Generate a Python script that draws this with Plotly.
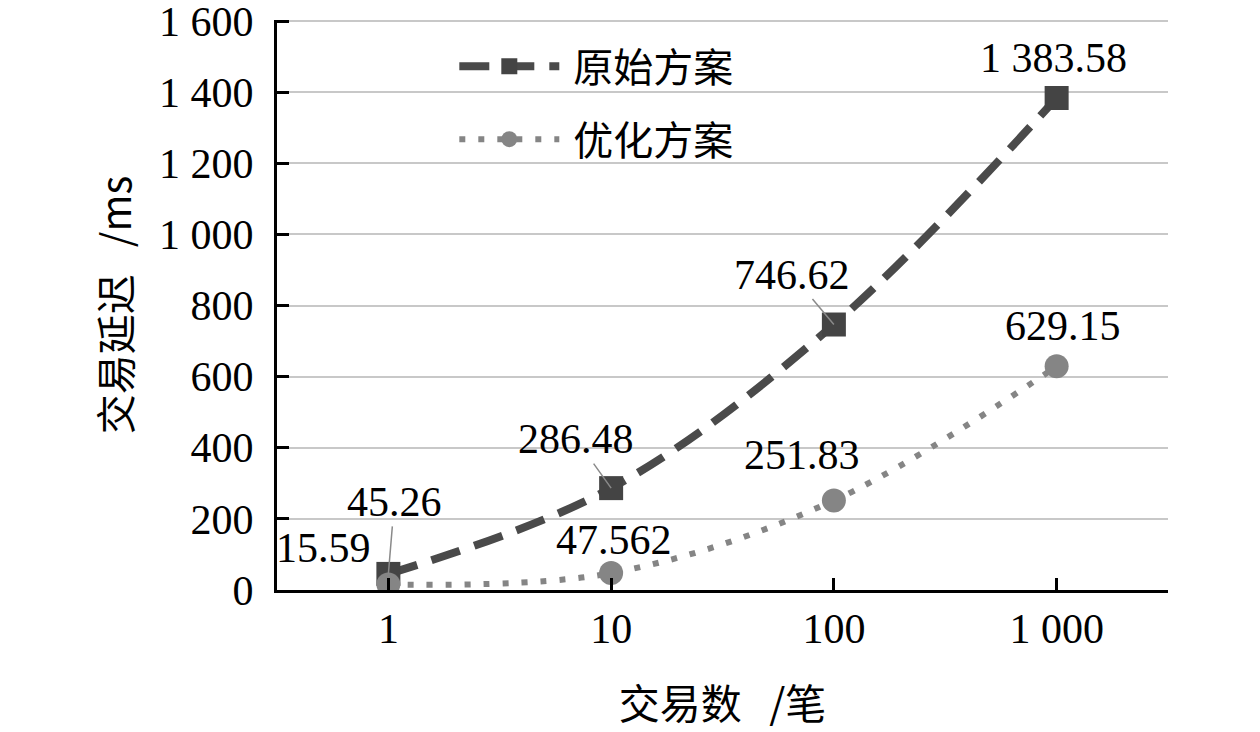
import plotly.graph_objects as go

categories = ["1", "10", "100", "1 000"]
original = [45.26, 286.48, 746.62, 1383.58]
optimized = [15.59, 47.562, 251.83, 629.15]
original_labels = ["45.26", "286.48", "746.62", "1 383.58"]
optimized_labels = ["15.59", "47.562", "251.83", "629.15"]
y_tickvals = [0, 200, 400, 600, 800, 1000, 1200, 1400, 1600]
y_ticktext = ["0", "200", "400", "600", "800", "1 000", "1 200", "1 400", "1 600"]

SERIF = "Liberation Serif, Times New Roman, serif"
CJK = "Noto Sans CJK SC, sans-serif"

fig = go.Figure()
fig.add_trace(go.Scatter(
    x=categories, y=original, name="\u00a0原始方案", mode="lines+markers",
    line=dict(color="#4a4a4a", width=8, dash="30px,15px", shape="spline"),
    marker=dict(symbol="square", size=24, color="#444444"),
    legendgroup="a",
))
fig.add_trace(go.Scatter(
    x=categories, y=optimized, name="\u00a0优化方案", mode="lines+markers",
    line=dict(color="#858585", width=6, dash="6px,13px", shape="spline"),
    marker=dict(symbol="circle", size=24, color="#858585"),
    legendgroup="b",
))

# label offsets (pixels) and whether a leader line is drawn
orig_off = [(6, -72, True), (-35, -49, True), (-42, -50, True), (-3, -40, False)]
opt_off = [(-65, -36, False), (3, -33, False), (-32, -45, False), (6, -40, False)]

for i, (v, lab) in enumerate(zip(original, original_labels)):
    ax, ay, line = orig_off[i]
    fig.add_annotation(x=i, y=v, xref="x", yref="y", text=lab, showarrow=True,
                       ax=ax, ay=ay, arrowhead=0, arrowwidth=1.5, standoff=0,
                       arrowcolor="#8a8a8a" if line else "rgba(0,0,0,0)",
                       font=dict(family=SERIF, size=42, color="black"))
for i, (v, lab) in enumerate(zip(optimized, optimized_labels)):
    ax, ay, line = opt_off[i]
    fig.add_annotation(x=i, y=v, xref="x", yref="y", text=lab, showarrow=True,
                       ax=ax, ay=ay, arrowhead=0, arrowwidth=1.5, standoff=0,
                       arrowcolor="#8a8a8a" if line else "rgba(0,0,0,0)",
                       font=dict(family=SERIF, size=42, color="black"))

fig.update_layout(
    width=1260, height=732,
    margin=dict(l=269, r=100, t=12, b=150, autoexpand=False),
    plot_bgcolor="white", paper_bgcolor="white",
    showlegend=True,
    legend=dict(
        x=0.199, y=0.976, xanchor="left", yanchor="top",
        font=dict(family=CJK, size=40, color="black"),
        bgcolor="rgba(255,255,255,0)", itemwidth=100,
        traceorder="grouped", tracegroupgap=18,
    ),
    xaxis=dict(
        type="category", range=[-0.5, 3.5], automargin=False,
        showline=True, linecolor="black", linewidth=3,
        ticks="inside", ticklen=12, tickwidth=3, tickcolor="black",
        showgrid=False, zeroline=False,
        tickfont=dict(family=SERIF, size=42, color="black"),
        ticklabeloverflow="allow",
        title=dict(text="交易数\u00a0\u00a0 /笔", font=dict(family=CJK, size=41, color="black"), standoff=39),
    ),
    yaxis=dict(
        range=[0, 1603], automargin=False,
        tickvals=y_tickvals, ticktext=y_ticktext,
        showline=True, linecolor="black", linewidth=3,
        ticks="inside", ticklen=12, tickwidth=3, tickcolor="black",
        showgrid=True, gridcolor="#c8c8c8", gridwidth=2, zeroline=False,
        tickfont=dict(family=SERIF, size=42, color="black"),
        ticklabelstandoff=12, ticklabeloverflow="allow",
        title=dict(text="交易延迟\u00a0\u00a0 /ms", font=dict(family=CJK, size=40, color="black"), standoff=16),
    ),
)

fig.write_html("out.html")
